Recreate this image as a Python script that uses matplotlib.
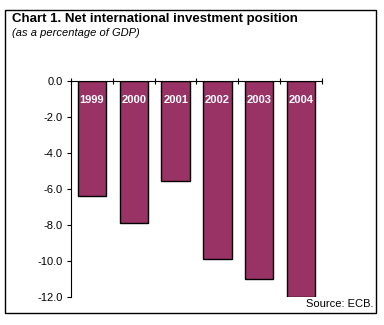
import matplotlib.pyplot as plt
from matplotlib.patches import Rectangle

plt.rcParams['font.family'] = ['Liberation Sans', 'DejaVu Sans']

# Data
years = ["1999", "2000", "2001", "2002", "2003", "2004"]
values = [-6.4, -7.9, -5.6, -9.9, -11.0, -12.0]
yticks = [0.0, -2.0, -4.0, -6.0, -8.0, -10.0, -12.0]

bar_color = "#993366"

fig = plt.figure(figsize=(3.84, 3.25), dpi=100)
fig.patch.set_facecolor("white")

# outer frame
fig.patches.append(Rectangle((5 / 384, 1 - 313 / 325), 371 / 384, 303 / 325,
                             transform=fig.transFigure, fill=False,
                             edgecolor="black", linewidth=1.0))

fig.text(12 / 384, 1 - 19 / 325, "Chart 1. Net international investment position",
         fontsize=9.5, fontweight="bold", va="center", ha="left")
fig.text(12 / 384, 1 - 33 / 325, "(as a percentage of GDP)",
         fontsize=8, style="italic", va="center", ha="left")
fig.text(374 / 384, 1 - 304 / 325, "Source: ECB.",
         fontsize=8, va="center", ha="right")

ax = fig.add_axes([71 / 384, 1 - 296.7 / 325, 251 / 384, 216 / 325])
x = list(range(len(years)))
ax.bar(x, values, width=0.68, color=bar_color, edgecolor="black", linewidth=1.0)

for xi, yr in zip(x, years):
    ax.text(xi, -1.05, yr, color="white", fontsize=8, fontweight="bold",
            ha="center", va="center")

ax.set_xlim(-0.5, len(years) - 0.5)
ax.set_ylim(-12, 0)
ax.set_yticks(yticks)
ax.set_yticklabels([f"{v:.1f}" for v in yticks], fontsize=8)
ax.tick_params(axis="y", direction="out", length=3, width=0.8, pad=3)

ax.xaxis.set_ticks_position("top")
ax.set_xticks([i + 0.5 for i in range(-1, len(years))])
ax.set_xticklabels([])
ax.tick_params(axis="x", direction="inout", length=4, width=0.8)

ax.spines["right"].set_visible(False)
ax.spines["bottom"].set_visible(False)
ax.spines["top"].set_linewidth(0.8)
ax.spines["left"].set_linewidth(0.8)

plt.savefig("out.png", dpi=100)
